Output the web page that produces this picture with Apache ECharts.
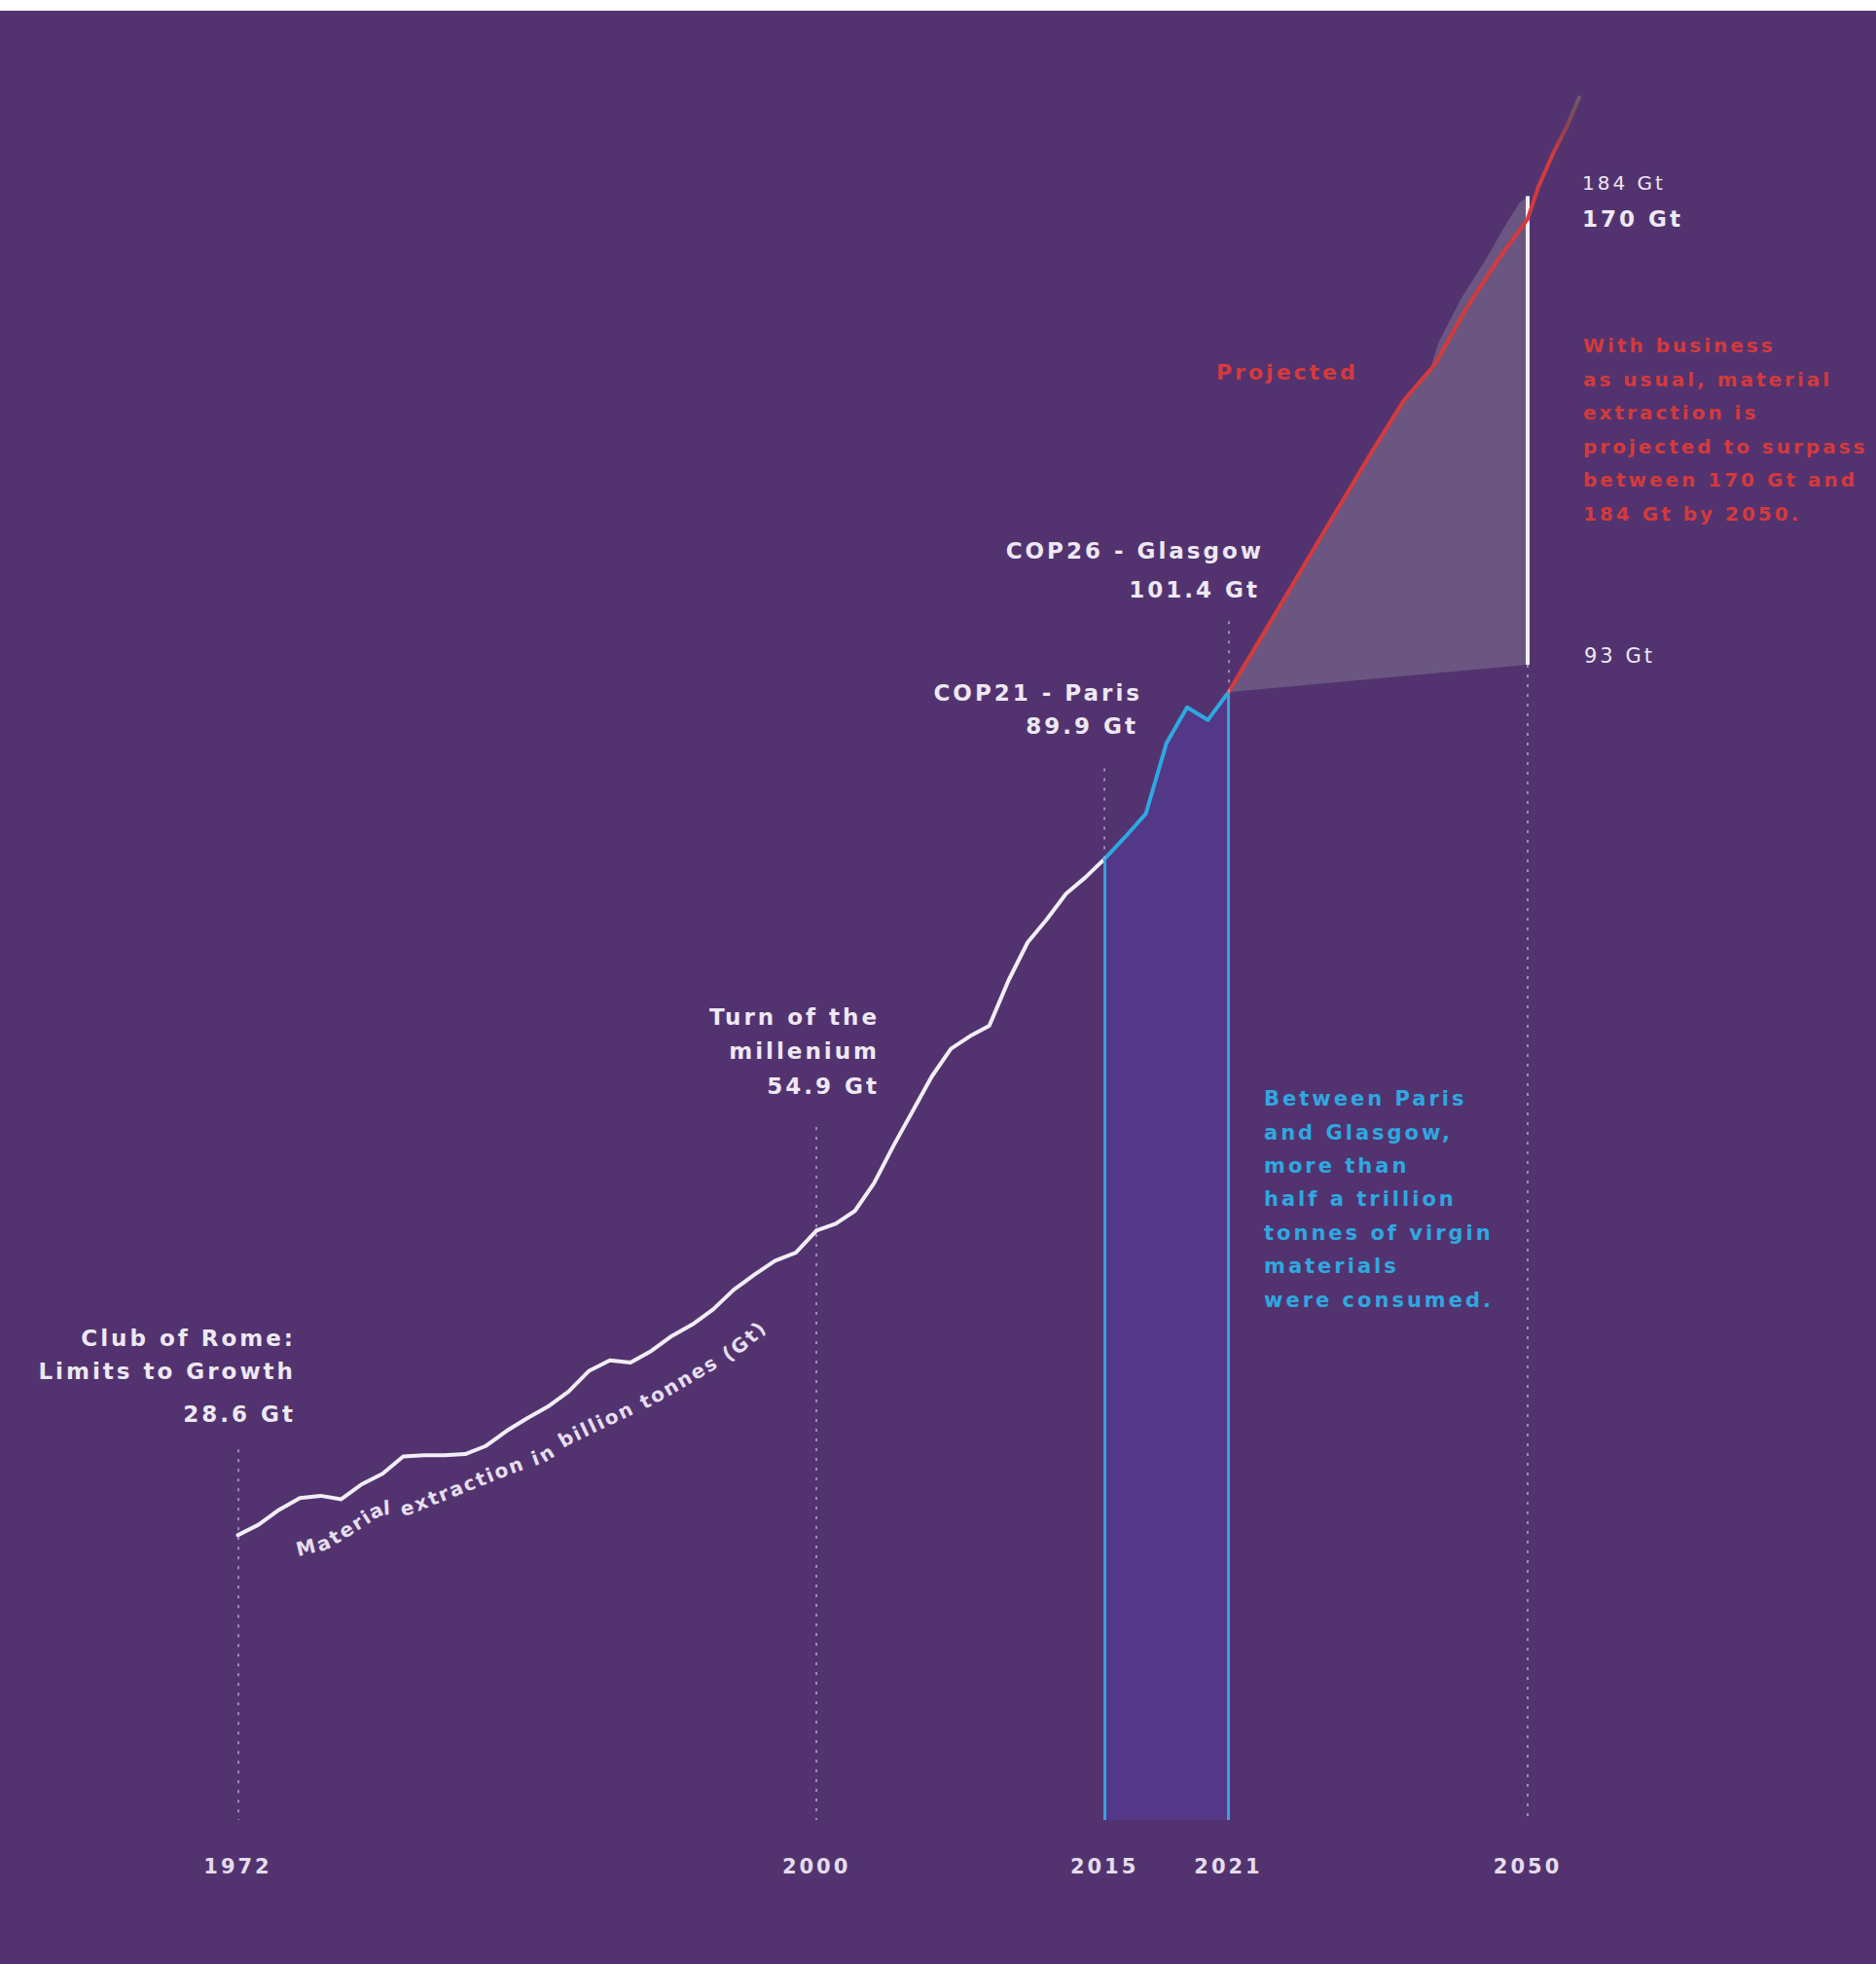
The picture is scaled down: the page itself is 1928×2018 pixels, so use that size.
<!DOCTYPE html>
<html><head><meta charset="utf-8">
<script src="https://cdn.jsdelivr.net/npm/echarts@6/dist/echarts.min.js"></script>
<style>
html,body{margin:0;padding:0;background:#fff;}
#c{width:1928px;height:2018px;}
#c svg text{letter-spacing:3px;}
</style></head><body><div id="c"></div>
<script>
// ---------------- DATA ----------------
const histYears = [];
for (let y = 1972; y <= 2021; y++) histYears.push(y);
const histValues = [28.6,29.5,30.8,31.8,32.0,31.7,33.0,33.9,35.4,35.5,
  35.5,35.6,36.3,37.6,38.7,39.7,41.0,42.8,43.7,43.5,
  44.5,45.8,46.8,48.1,49.8,51.1,52.3,53.0,54.9,55.5,
  56.6,59.0,62.2,65.2,68.2,70.6,71.7,72.6,76.5,79.8,
  81.8,84.0,85.4,87.0,88.9,90.9,97.0,100.1,99.0,101.4];
const projYears  = [2021,2025,2030,2035,2038,2041,2044,2047,2050,2051,2052.5,2053.8,2055];
const projValues = [101.4,111.4,124.0,136.5,143.7,148.9,156.9,163.8,170.0,174.5,179.6,183.4,187.6];
const highYears  = [2021,2030,2038,2040.5,2041.4,2043.6,2045.9,2047.8,2049.2,2050];
const highValues = [101.4,124.0,143.7,148.0,152.2,158.6,164.0,169.0,172.3,173.3];
const lowYears   = [2021,2050];
const lowValues  = [101.4,105.4];
const tickYears  = [1972,2000,2015,2021,2050];

// ---------------- LAYOUT ----------------
const BG = '#52336F', WHITE = '#F2EEF6', BLUE = '#2FA8E0', RED = '#D43A3C';
const BAND = '#523887', GREY = '#6A5680', DOT = 'rgba(200,184,232,0.65)';
const TXT = '#EEE8F3';
const FONT = '"DejaVu Sans", sans-serif';

const grids = [
  {left:244.5, width:594.6, top:490, height:1380},
  {left:839.1, width:296.0, top:490, height:1380},
  {left:1135.1, width:127.4, top:490, height:1380},
  {left:1262.5, width:371.2, top:83, height:1787}
];
const xRanges = [[1972,2000],[2000,2015],[2015,2021],[2021,2056]];
const yRanges = [[4,120],[4,120],[4,120],[-62,190]];

const pairs = (xs, vs, lo, hi) => xs.map((x,i)=>[x,vs[i]]).filter(p=>p[0]>=lo && p[0]<=hi);
const valAt = yr => histValues[histYears.indexOf(yr)];

const dotStyle = {type:[3,7], color:DOT, width:2};
function vline(x, y0, y1, style){ return [{coord:[x,y0], lineStyle:style},{coord:[x,y1]}]; }

// curved axis-title text laid along the line
function curvedText(str, pts, font, spacing){
  const ctx = document.createElement('canvas').getContext('2d');
  ctx.font = font;
  const segs = []; let total = 0;
  for (let i=0;i<pts.length-1;i++){ const L=Math.hypot(pts[i+1][0]-pts[i][0],pts[i+1][1]-pts[i][1]); segs.push(L); total+=L; }
  function at(d){
    d = Math.max(0, Math.min(total, d));
    for (let i=0;i<segs.length;i++){
      if (d<=segs[i] || i===segs.length-1){ const t=d/segs[i]; return [pts[i][0]+(pts[i+1][0]-pts[i][0])*t, pts[i][1]+(pts[i+1][1]-pts[i][1])*t]; }
      d-=segs[i];
    }
  }
  const els=[]; let d=0;
  for (const ch of str){
    const w = ctx.measureText(ch).width;
    const m = d + w/2;
    const p = at(m), a = at(m-10), b = at(m+10);
    const ang = Math.atan2(-(b[1]-a[1]), b[0]-a[0]);
    if (ch !== ' ') els.push({type:'text', x:p[0], y:p[1], rotation:ang, z:20,
      style:{text:ch, font:font, fill:'#E6DEEF', align:'center', verticalAlign:'middle'}});
    d += w + spacing;
  }
  return els;
}
const titlePath = [[306,1592],[335,1585],[392,1549],[418,1550],[523,1508],[560,1495],[580,1479],[654,1444],[669,1437],[753,1388],[774,1371],[805,1335]];

function txt(text, x, y, align, size, weight, color){
  return {type:'text', x:x, y:y, z:20, style:{text:text, fill:color||TXT,
    font:(weight||'bold')+' '+size+'px '+FONT, align:align, verticalAlign:'middle'}};
}

const texts = [
  txt('Club of Rome:', 304, 1375, 'right', 23),
  txt('Limits to Growth', 304, 1409, 'right', 23),
  txt('28.6 Gt', 304, 1453, 'right', 23),
  txt('Turn of the', 904, 1045, 'right', 23),
  txt('millenium', 904, 1080, 'right', 23),
  txt('54.9 Gt', 904, 1116, 'right', 23),
  txt('COP21 - Paris', 1174, 712, 'right', 23),
  txt('89.9 Gt', 1170, 746, 'right', 23),
  txt('COP26 - Glasgow', 1299, 566, 'right', 23),
  txt('101.4 Gt', 1295, 606, 'right', 23),
  txt('Projected', 1250, 382, 'left', 22, 'bold', RED),
  txt('184 Gt', 1626, 188, 'left', 20, 'normal'),
  txt('170 Gt', 1626, 225, 'left', 23, 'bold'),
  txt('93 Gt', 1628, 674, 'left', 21, 'normal'),
  {type:'text', x:1627, y:338, z:20, style:{text:'With business\nas usual, material\nextraction is\nprojected to surpass\nbetween 170 Gt and\n184 Gt by 2050.',
    fill:RED, font:'bold 20px '+FONT, align:'left', verticalAlign:'top', lineHeight:34.5}},
  {type:'text', x:1299, y:1112, z:20, style:{text:'Between Paris\nand Glasgow,\nmore than\nhalf a trillion\ntonnes of virgin\nmaterials\nwere consumed.',
    fill:BLUE, font:'bold 21px '+FONT, align:'left', verticalAlign:'top', lineHeight:34.4}},
  {type:'rect', shape:{x:0,y:0,width:1928,height:11}, style:{fill:'#ffffff'}, z:50}
].concat(curvedText('Material extraction in billion tonnes (Gt)', titlePath, 'bold 20px '+FONT, 2));

const option = {
  animation:false,
  backgroundColor:BG,
  grid: grids.map(g=>Object.assign({containLabel:false}, g)),
  xAxis: xRanges.map((r,i)=>({
    type:'value', gridIndex:i, min:r[0], max:r[1],
    axisLine:{show:false}, axisTick:{show:false}, splitLine:{show:false},
    axisLabel:{
      customValues: tickYears.filter(t => t>=r[0] && t<=r[1] && !(i===0 && t===2000) && !(i===1 && t===2015) && !(i===3 && t===2021)),
      formatter: v => String(v),
      color:'#E4DCEC', fontFamily:FONT, fontWeight:'bold', fontSize:21, margin:37,
      showMinLabel:true, showMaxLabel:true
    }
  })),
  yAxis: yRanges.map((r,i)=>({type:'value', gridIndex:i, min:r[0], max:r[1], show:false})),
  graphic:{elements:texts},
  series:[
    {type:'line', xAxisIndex:0, yAxisIndex:0, data:pairs(histYears,histValues,1972,2000), symbol:'none', z:4,
      lineStyle:{color:WHITE, width:4, join:'round', cap:'round'},
      markLine:{silent:true, symbol:['none','none'], label:{show:false}, animation:false,
        data:[vline(1972, 36.0, 4, dotStyle)]}},
    {type:'line', xAxisIndex:1, yAxisIndex:1, data:pairs(histYears,histValues,2000,2015), symbol:'none', z:4,
      lineStyle:{color:WHITE, width:4, join:'round', cap:'round'},
      markLine:{silent:true, symbol:['none','none'], label:{show:false}, animation:false,
        data:[vline(2000, 63.85, 4, dotStyle)]}},
    {type:'line', xAxisIndex:2, yAxisIndex:2, data:pairs(histYears,histValues,2015,2021), symbol:'none', z:4,
      lineStyle:{color:BLUE, width:4, join:'round', cap:'round'},
      areaStyle:{color:BAND, opacity:1, origin:'start'},
      markLine:{silent:true, symbol:['none','none'], label:{show:false}, animation:false,
        data:[
          vline(2015, 4, valAt(2015), {color:'#3E9FDD', width:3, type:'solid'}),
          vline(2021, 4, valAt(2021), {color:'#3E9FDD', width:3, type:'solid'}),
          vline(2015, valAt(2015), 95.4, dotStyle),
          vline(2021, valAt(2021), 107.6, dotStyle)
        ]}},
    {type:'custom', xAxisIndex:3, yAxisIndex:3, z:1, silent:true,
      data:[[lowYears[0], lowValues[0]]],
      renderItem:function(params, api){
        const pts = highYears.map((yr,i)=>api.coord([yr, highValues[i]]));
        for (let i=lowYears.length-1;i>=0;i--) pts.push(api.coord([lowYears[i], lowValues[i]]));
        return {type:'polygon', shape:{points:pts}, style:{fill:GREY}};
      }},
    {type:'line', xAxisIndex:3, yAxisIndex:3, data:pairs(projYears,projValues,2021,2056), symbol:'none', z:4,
      lineStyle:{width:4, join:'round', cap:'round',
        color:{type:'linear', x:0, y:0, x2:0, y2:1, colorStops:[
          {offset:0, color:'#6E5868'},{offset:0.05, color:'#8C4352'},{offset:0.1, color:RED},{offset:1, color:RED}]}},
      markLine:{silent:true, symbol:['none','none'], label:{show:false}, animation:false, z:3,
        data:[
          vline(2050, lowValues[1], highValues[highValues.length-1], {color:WHITE, width:4, type:'solid'}),
          vline(2050, lowValues[1], -62, dotStyle)
        ]}}
  ]
};
const chart = echarts.init(document.getElementById('c'), null, {renderer:'svg'});
chart.setOption(option);
</script></body></html>
